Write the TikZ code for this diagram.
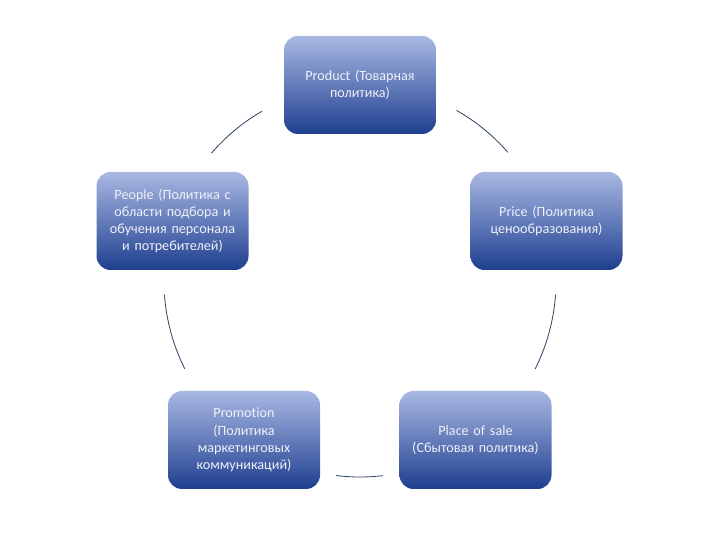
\documentclass[tikz,border=0pt]{standalone}
\usepackage{fontspec}
\setmainfont{Carlito}[Ligatures=NoCommon]
\definecolor{boxtop}{RGB}{168,184,226}
\definecolor{boxmid}{RGB}{100,124,186}
\definecolor{boxbot}{RGB}{30,62,142}
\definecolor{arcc}{RGB}{44,66,98}
\definecolor{txt}{RGB}{238,241,248}
\begin{document}
\begin{tikzpicture}[x=1bp,y=1bp]
\useasboundingbox (0,0) rectangle (720,540);
\tikzset{
  box/.style={rounded corners=14bp, minimum width=152bp, minimum height=98bp,
    top color=boxtop, bottom color=boxbot, middle color=boxmid,
    text=txt, align=center, text width=148bp, inner sep=0pt,
    font=\fontsize{14.2}{17.3}\selectfont},
  cyc/.style={draw=arcc, line width=0.8bp}
}
\node[box] (prod) at (360,455) {Product (Товарная\\политика)};
\node[box] (people) at (172.5,319) {People (Политика с\\области подбора и\\обучения персонала\\и потребителей)};
\node[box] (price) at (546.5,319) {Price (Политика\\ценообразования)};
\node[box] (promo) at (244,100) {Promotion\\(Политика\\маркетинговых\\коммуникаций)};
\node[box] (place) at (475.5,100) {Place of sale\\(Сбытовая политика)};
\coordinate (C) at (360,259);
\path (C) ++(120:196) coordinate (a1s);
\path (C) ++(60.5:196) coordinate (a2s);
\path (C) ++(-4:196) coordinate (a3s);
\path (C) ++(-83.3:196) coordinate (a4s);
\path (C) ++(206.6:196) coordinate (a5s);
\draw[cyc] (a1s) arc[start angle=120, end angle=139.3, radius=196];
\draw[cyc] (a2s) arc[start angle=60.5, end angle=41, radius=196];
\draw[cyc] (a3s) arc[start angle=-4, end angle=-26.7, radius=196];
\draw[cyc] (a4s) arc[start angle=-83.3, end angle=-97, radius=196];
\draw[cyc] (a5s) arc[start angle=206.6, end angle=184, radius=196];
\end{tikzpicture}
\end{document}
